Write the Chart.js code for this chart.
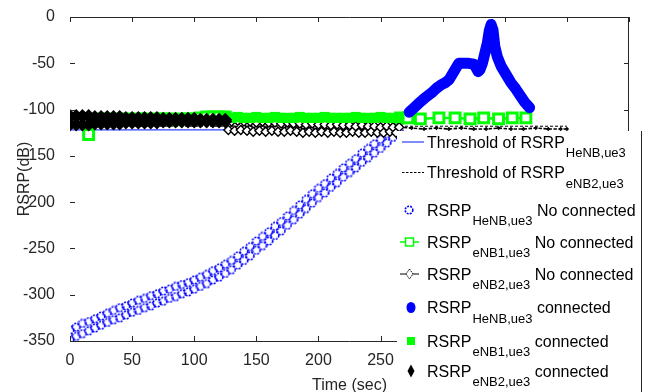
<!DOCTYPE html>
<html>
<head>
<meta charset="utf-8">
<script src="https://cdn.jsdelivr.net/npm/chart.js@4.4.0/dist/chart.umd.min.js"></script>
<style>
  html, body { margin: 0; padding: 0; background: #fff; }
  #chart { display: block; }
</style>
</head>
<body>
<canvas id="chart" width="651" height="392"></canvas>
<script>
// axis ranges (sec / dB)
const xRange = [0, 450];
const yRange = [-350, 0];
const tickStep = 50;

// sample times of the measured bands, every 5 s up to the HeNB handover
const bandTimes = [0, 5, 10, 15, 20, 25, 30, 35, 40, 45, 50, 55, 60, 65, 70, 75, 80, 85, 90, 95,
  100, 105, 110, 115, 120, 125, 130, 135, 140, 145, 150, 155, 160, 165, 170, 175, 180, 185, 190, 195,
  200, 205, 210, 215, 220, 225, 230, 235, 240, 245, 250, 255, 260, 265];

// RSRP HeNB,ue3 while not connected (upper and lower edge of the noisy band)
const henbNoConnHigh = [-338, -335, -331, -329, -326, -323, -320, -317, -314, -312,
  -309, -306, -304, -301, -299, -296, -294, -291, -289, -287,
  -284, -281, -278, -274, -271, -267, -263, -258, -253, -248,
  -242, -237, -232, -226, -221, -215, -209, -203, -197, -191,
  -185, -180, -174, -169, -163, -158, -153, -147, -142, -137,
  -132, -126, -120, -114];
const henbNoConnLow = [-348, -345, -342, -339, -336, -333, -330, -327, -325, -322,
  -319, -317, -314, -312, -309, -307, -304, -302, -299, -297,
  -294, -291, -288, -284, -281, -277, -273, -268, -263, -258,
  -252, -247, -242, -236, -231, -225, -219, -213, -207, -201,
  -195, -190, -184, -179, -173, -168, -163, -157, -152, -147,
  -142, -136, -130, -123];

// RSRP eNB2,ue3 while connected, 0..125 s
const enb2ConnHigh = [-107, -107, -107, -107, -108, -108, -108, -108, -108, -109, -109, -109, -109,
  -109, -109, -110, -110, -110, -110, -110, -110, -111, -111, -111, -111, -111];
const enb2ConnLow = [-116, -116, -116, -116, -115, -115, -115, -115, -115, -114, -114, -114, -114,
  -114, -114, -113, -113, -113, -113, -113, -113, -113, -113, -113, -113, -113];

// RSRP eNB2,ue3 while not connected
const enb2NoConnTimes = [125, 127.5, 130, 132.5, 135, 137.5, 140, 142.5, 145, 147.5, 150, 152.5,
  155, 157.5, 160, 162.5, 165, 167.5, 170, 172.5, 175, 177.5, 180, 182.5, 185, 187.5, 190, 192.5,
  195, 197.5, 200, 202.5, 205, 207.5, 210, 212.5, 215, 217.5, 220, 222.5, 225, 227.5, 230, 232.5,
  235, 237.5, 240, 242.5, 245, 247.5, 250, 252.5, 255, 257.5, 260, 262.5, 265,
  275, 285, 295, 305, 315, 325, 335, 345, 355, 365, 375, 385, 395, 400];
const enb2NoConnValues = [-112, -122, -113, -123, -112, -122, -113, -123, -113, -124, -114, -123,
  -113, -124, -114, -123, -114, -124, -115, -124, -114, -123, -115, -124, -115, -125, -116, -124,
  -115, -125, -116, -124, -116, -125, -117, -124, -116, -125, -117, -125, -117, -124, -118, -125,
  -117, -125, -118, -124, -118, -125, -119, -125, -118, -124, -119, -125, -119,
  -120, -121, -120, -121, -120, -121, -121, -120, -121, -121, -120, -121, -121, -121];

// RSRP eNB1,ue3 while not connected (gap while eNB1 serves the UE)
const enb1NoConnTimes = [0, 5, 10, 15, 20, 25, 30, 35, 40, 45, 50, 55, 60, 65, 70, 75, 80, 85, 90,
  95, 100, 105, 110, 115, 120, 125, 195, 266, 272, 282, 297, 310, 322, 333, 345, 356, 367];
const enb1NoConnValues = [-110, -110, -111, -127, -111, -110, -110, -111, -110, -110, -111, -110,
  -110, -111, -110, -110, -110, -111, -110, -110, -110, -109, -108, -108, -108, -108, null,
  -109, -109, -110, -109, -109, -110, -109, -110, -109, -109];

// RSRP eNB1,ue3 while connected, 125..265 s
const enb1ConnValues = [-108, -109, -108, -109, -109, -108, -109, -109, -108, -109, -109, -109,
  -108, -109, -109, -109, -108, -109, -109, -109, -109, -108, -109, -109, -109, -108, -109, -109, -109];

// RSRP HeNB,ue3 while connected
const henbConnTimes = [273, 277, 281, 286, 291, 295, 299, 302, 305, 309, 313, 317, 321, 325, 327,
  328.5, 330, 332, 334, 336, 337.5, 339, 340.5, 342, 344, 347, 351, 355, 359, 363, 366, 370];
const henbConnValues = [-103, -98, -93, -87, -82, -77, -73, -71, -68, -59, -50, -50, -50, -51, -55,
  -59, -57, -50, -39, -28, -15, -8, -14, -32, -43, -53, -62, -71, -78, -86, -92, -98];

// handover thresholds
const thresholdHenbTimes = [0, 265];
const thresholdHenbValues = [-122, -122];
const thresholdEnb2Times = [0, 400];
const thresholdEnb2Values = [-118, -118];

const BLUE = '#0000ff';
const GREEN = '#00ff00';
const BLACK = '#000000';
const AXIS = '#262626';
const FONT = '"Liberation Sans", Arial, Helvetica, sans-serif';

const pairs = (xs, ys) => xs.map((x, i) => ({ x, y: ys[i] }));

// dotted open circle marker
function dottedCircle() {
  const c = document.createElement('canvas');
  c.width = 10; c.height = 10;
  const g = c.getContext('2d');
  g.strokeStyle = BLUE;
  g.lineWidth = 1.6;
  g.setLineDash([2, 1.1]);
  g.beginPath();
  g.arc(5, 5, 3.8, 0, Math.PI * 2);
  g.stroke();
  return c;
}
const circleMark = dottedCircle();

const lowTimes = bandTimes.slice(0, 26);
const highTimes = bandTimes.slice(25);

const datasets = [
  {
    label: 'Threshold HeNB', order: 9,
    data: pairs(thresholdHenbTimes, thresholdHenbValues),
    showLine: true, borderColor: '#2f40ff', borderWidth: 1.3, pointRadius: 0
  },
  {
    label: 'Threshold eNB2', order: 8,
    data: pairs(thresholdEnb2Times, thresholdEnb2Values),
    showLine: true, borderColor: BLACK, borderWidth: 1, borderDash: [3, 2], pointRadius: 0
  },
  {
    label: 'HeNB no connected', order: 7,
    data: pairs(bandTimes, henbNoConnHigh).concat(pairs(bandTimes, henbNoConnLow)),
    showLine: false, pointStyle: circleMark, pointRadius: 4
  },
  {
    label: 'eNB1 no connected', order: 6,
    data: pairs(enb1NoConnTimes, enb1NoConnValues),
    showLine: true, borderColor: GREEN, borderWidth: 2.5,
    pointStyle: 'rect', pointRadius: 7, pointBorderWidth: 3,
    pointBorderColor: GREEN, pointBackgroundColor: '#ffffff'
  },
  {
    label: 'eNB2 no connected', order: 5,
    data: pairs(enb2NoConnTimes, enb2NoConnValues),
    showLine: true, borderColor: BLACK, borderWidth: 1.6, borderDash: [3.5, 1.5],
    pointStyle: 'rectRot',
    pointRadius: (ctx) => (ctx.raw && ctx.raw.x > 265 ? 1.2 : 4.5),
    pointBorderWidth: 1.4, pointBorderColor: BLACK, pointBackgroundColor: '#ffffff'
  },
  {
    label: 'HeNB connected', order: 4,
    data: pairs(henbConnTimes, henbConnValues),
    showLine: true, borderColor: BLUE, borderWidth: 11,
    borderCapStyle: 'round', borderJoinStyle: 'round', pointRadius: 0
  },
  {
    label: 'eNB1 connected', order: 3,
    data: pairs(highTimes, enb1ConnValues),
    showLine: false, pointStyle: 'rect', pointRadius: 7.2,
    pointBorderWidth: 0, pointBackgroundColor: GREEN
  },
  {
    label: 'eNB2 connected', order: 2,
    data: pairs(lowTimes, enb2ConnHigh).concat(pairs(lowTimes, enb2ConnLow)),
    showLine: false, pointStyle: 'rectRot', pointRadius: 7,
    pointBorderWidth: 0, pointBackgroundColor: BLACK
  }
];

// box with inward ticks and the axis titles
const frame = {
  id: 'frame',
  afterDraw(chart) {
    const { ctx, chartArea: a, scales: { x, y } } = chart;
    ctx.save();
    ctx.strokeStyle = AXIS;
    ctx.lineWidth = 1;
    ctx.beginPath();
    ctx.moveTo(a.left, a.top + 0.5); ctx.lineTo(a.right, a.top + 0.5);
    ctx.moveTo(a.left, a.bottom + 0.5); ctx.lineTo(a.right, a.bottom + 0.5);
    ctx.moveTo(a.right - 0.5, a.top); ctx.lineTo(a.right - 0.5, a.bottom);
    y.ticks.forEach((t) => {
      const py = Math.round(y.getPixelForValue(t.value)) + 0.5;
      ctx.moveTo(a.left, py); ctx.lineTo(a.left + 5, py);
      ctx.moveTo(a.right, py); ctx.lineTo(a.right - 5, py);
    });
    x.ticks.forEach((t) => {
      const px = Math.round(x.getPixelForValue(t.value)) + 0.5;
      ctx.moveTo(px, a.bottom); ctx.lineTo(px, a.bottom - 5);
      ctx.moveTo(px, a.top); ctx.lineTo(px, a.top + 5);
    });
    ctx.stroke();

    ctx.fillStyle = AXIS;
    ctx.font = '16px ' + FONT;
    ctx.textAlign = 'center';
    ctx.textBaseline = 'alphabetic';
    ctx.fillText('Time (sec)', (a.left + a.right) / 2, 390);
    ctx.translate(29, (a.top + a.bottom) / 2);
    ctx.rotate(-Math.PI / 2);
    ctx.fillText('RSRP(dB)', 0, 0);
    ctx.restore();
  }
};

// legend entries with subscripted names
const legendRows = [
  { icon: 'thrHenb', main: 'Threshold of RSRP', sub: 'HeNB,ue3', tail: '', base: 147.5 },
  { icon: 'thrEnb2', main: 'Threshold of RSRP', sub: 'eNB2,ue3', tail: '', base: 178 },
  { icon: 'henbNo', main: 'RSRP', sub: 'HeNB,ue3', tail: 'No connected', base: 215.5 },
  { icon: 'enb1No', main: 'RSRP', sub: 'eNB1,ue3', tail: 'No connected', base: 247.5 },
  { icon: 'enb2No', main: 'RSRP', sub: 'eNB2,ue3', tail: 'No connected', base: 279.5 },
  { icon: 'henbOn', main: 'RSRP', sub: 'HeNB,ue3', tail: 'connected', base: 313 },
  { icon: 'enb1On', main: 'RSRP', sub: 'eNB1,ue3', tail: 'connected', base: 346.5 },
  { icon: 'enb2On', main: 'RSRP', sub: 'eNB2,ue3', tail: 'connected', base: 376.5 }
];

function drawIcon(ctx, kind, cy) {
  ctx.save();
  if (kind === 'thrHenb') {
    ctx.strokeStyle = '#3b4cff'; ctx.lineWidth = 1.3;
    ctx.beginPath(); ctx.moveTo(402, cy); ctx.lineTo(424, cy); ctx.stroke();
  } else if (kind === 'thrEnb2') {
    ctx.strokeStyle = BLACK; ctx.lineWidth = 1; ctx.setLineDash([2.5, 1.5]);
    ctx.beginPath(); ctx.moveTo(402, cy); ctx.lineTo(424, cy); ctx.stroke();
  } else if (kind === 'henbNo') {
    ctx.drawImage(circleMark, 409 - 5, cy - 5);
  } else if (kind === 'enb1No') {
    ctx.strokeStyle = GREEN; ctx.lineWidth = 1.5;
    ctx.beginPath(); ctx.moveTo(400, cy); ctx.lineTo(419, cy); ctx.stroke();
    ctx.fillStyle = '#fff'; ctx.lineWidth = 1.5;
    ctx.fillRect(405.5, cy - 4, 8, 8); ctx.strokeRect(405.5, cy - 4, 8, 8);
  } else if (kind === 'enb2No') {
    ctx.strokeStyle = BLACK; ctx.lineWidth = 1;
    ctx.beginPath(); ctx.moveTo(400, cy); ctx.lineTo(419, cy); ctx.stroke();
    ctx.fillStyle = '#fff'; ctx.setLineDash([1.5, 1]);
    ctx.beginPath();
    ctx.moveTo(409.5, cy - 5); ctx.lineTo(413, cy); ctx.lineTo(409.5, cy + 5); ctx.lineTo(406, cy);
    ctx.closePath(); ctx.fill(); ctx.stroke();
  } else if (kind === 'henbOn') {
    ctx.fillStyle = BLUE;
    ctx.beginPath(); ctx.ellipse(411, cy, 4.5, 5.5, 0, 0, Math.PI * 2); ctx.fill();
  } else if (kind === 'enb1On') {
    ctx.fillStyle = GREEN;
    ctx.fillRect(407, cy - 4, 8, 8);
  } else if (kind === 'enb2On') {
    ctx.fillStyle = BLACK;
    ctx.beginPath();
    ctx.moveTo(411, cy - 6.5); ctx.lineTo(414.5, cy); ctx.lineTo(411, cy + 6.5); ctx.lineTo(407.5, cy);
    ctx.closePath(); ctx.fill();
  }
  ctx.restore();
}

const boxLegend = {
  id: 'boxLegend',
  afterDraw(chart) {
    const { ctx } = chart;
    ctx.save();
    ctx.fillStyle = '#fff';
    ctx.fillRect(397, 131, 244, 261);
    ctx.strokeStyle = AXIS;
    ctx.lineWidth = 1;
    ctx.beginPath(); ctx.moveTo(641.5, 131); ctx.lineTo(641.5, 392); ctx.stroke();

    ctx.fillStyle = '#000';
    ctx.textAlign = 'left';
    ctx.textBaseline = 'alphabetic';
    legendRows.forEach((row) => {
      drawIcon(ctx, row.icon, row.base - 5.5);
      let x = 427;
      ctx.font = '16px ' + FONT;
      ctx.fillText(row.main, x, row.base);
      x += ctx.measureText(row.main).width + 1;
      ctx.font = '13px ' + FONT;
      ctx.fillText(row.sub, x, row.base + 9.5);
      x += ctx.measureText(row.sub).width + 4.5;
      if (row.tail) {
        ctx.font = '16px ' + FONT;
        ctx.fillText(row.tail, x, row.base);
      }
    });
    ctx.restore();
  }
};

new Chart(document.getElementById('chart'), {
  type: 'scatter',
  data: { datasets },
  options: {
    responsive: false,
    animation: false,
    devicePixelRatio: 1,
    layout: { padding: { top: 17, right: 22, left: 0, bottom: 0 } },
    plugins: { legend: { display: false }, tooltip: { enabled: false } },
    scales: {
      x: {
        type: 'linear', min: xRange[0], max: xRange[1],
        grid: { display: false }, border: { display: false },
        ticks: { stepSize: tickStep, padding: 2, color: AXIS, font: { family: FONT, size: 16 } },
        afterFit: (scale) => { scale.height = 51; }
      },
      y: {
        type: 'linear', min: yRange[0], max: yRange[1],
        grid: { display: false }, border: { display: false },
        ticks: { stepSize: tickStep, padding: 7, color: AXIS, font: { family: FONT, size: 16 } },
        afterFit: (scale) => { scale.width = 70; }
      }
    }
  },
  plugins: [frame, boxLegend]
});
</script>
</body>
</html>
